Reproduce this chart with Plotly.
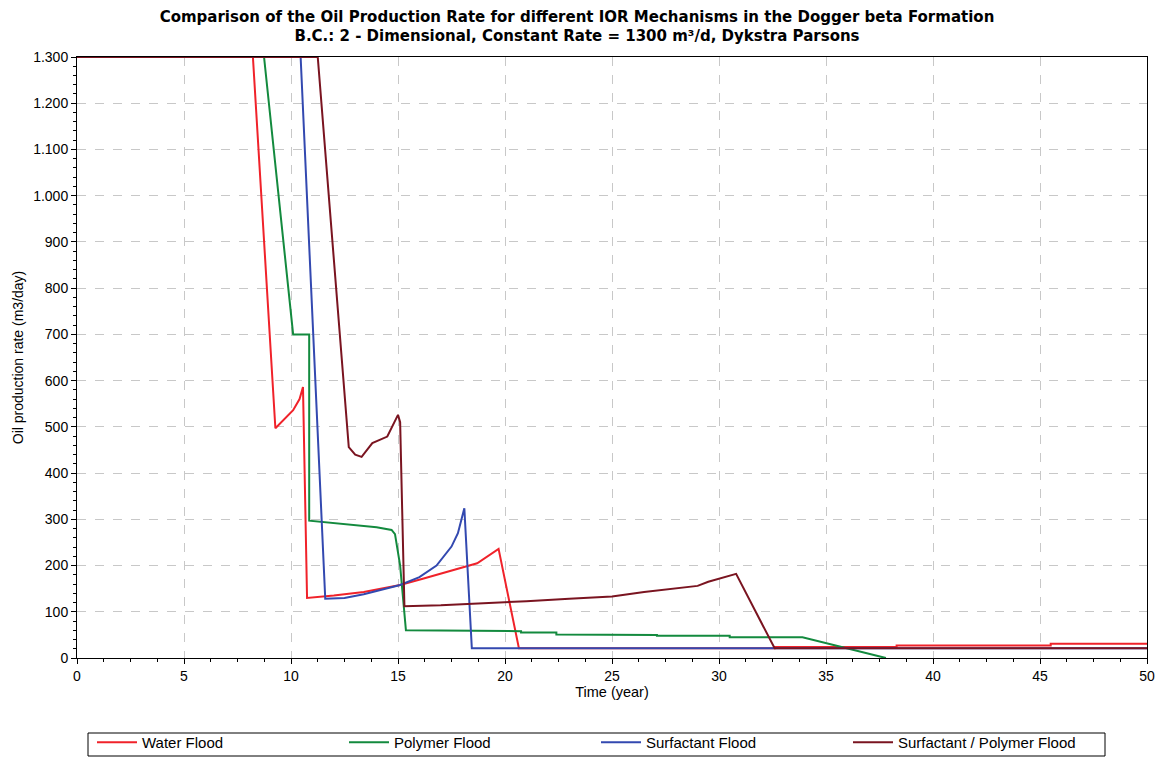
import plotly.graph_objects as go

# ---- data ----
water_x = [0, 8.22, 9.27, 9.6, 10.1, 10.4, 10.56, 10.75, 12, 13.4, 15.1, 16.2, 17.3, 18.7, 19.7,
           20.65, 32.6, 32.6, 38.3, 38.3, 45.5, 45.5, 50]
water_y = [1300, 1300, 497, 512, 536, 560, 586, 130, 135, 143, 158, 172, 187, 205, 236,
           21, 21, 24, 24, 27, 27, 31, 31]

polymer_x = [0, 8.74, 10.1, 10.85, 10.85, 12, 13, 14, 14.7, 14.86, 15.1, 15.37, 20.75, 20.75,
             22.4, 22.4, 27.1, 27.1, 30.5, 30.5, 33.9, 37.8]
polymer_y = [1300, 1300, 700, 700, 297, 292, 287, 283, 277, 268, 200, 60, 58, 55,
             55, 51, 50, 48, 48, 45, 45, 0]

surf_x = [0, 10.45, 11.6, 12.5, 13.4, 14.3, 15.1, 16, 16.8, 17.5, 17.8, 18.1, 18.45, 50]
surf_y = [1300, 1300, 128, 130, 138, 148, 158, 175, 200, 241, 270, 324, 21, 21]

sp_x = [0, 11.25, 12.7, 13.0, 13.3, 13.8, 14.5, 15.0, 15.1, 15.3, 17, 19, 21, 23, 25, 26.5,
        28, 29, 29.5, 30.8, 32.6, 50]
sp_y = [1300, 1300, 456, 440, 435, 465, 479, 526, 510, 112, 114, 118, 123, 128, 133, 143,
        150, 156, 165, 182, 21, 21]

series_names = ["Water Flood", "Polymer Flood", "Surfactant Flood", "Surfactant / Polymer Flood"]
series_colors = ["#f0222a", "#138a3e", "#3349b0", "#7a1420"]

y_tickvals = [0, 100, 200, 300, 400, 500, 600, 700, 800, 900, 1000, 1100, 1200, 1300]
y_ticktext = ["0", "100", "200", "300", "400", "500", "600", "700", "800", "900",
              "1.000", "1.100", "1.200", "1.300"]
x_tickvals = [0, 5, 10, 15, 20, 25, 30, 35, 40, 45, 50]

fig = go.Figure()
for name, xs, ys, col in zip(series_names,
                             [water_x, polymer_x, surf_x, sp_x],
                             [water_y, polymer_y, surf_y, sp_y],
                             series_colors):
    fig.add_trace(go.Scatter(x=xs, y=ys, mode="lines", name=name,
                             line=dict(color=col, width=2)))

font_family = "Liberation Sans, Arial, sans-serif"

# legend frame (reference draws a thin box around the legend row)
fig.add_shape(type="rect", xref="paper", yref="paper",
              x0=(88 - 77) / 1070, x1=(1105 - 77) / 1070,
              y0=(658 - 756) / 601, y1=(658 - 733) / 601,
              line=dict(color="#000000", width=1), fillcolor="white", layer="below")

fig.update_layout(
    width=1162, height=758,
    margin=dict(l=77, r=15, t=57, b=100, autoexpand=False),
    paper_bgcolor="white", plot_bgcolor="white",
    font=dict(family=font_family, size=13, color="#000000"),
    title=dict(
        text="Comparison of the Oil Production Rate for different IOR Mechanisms in the Dogger beta Formation"
             "<br>B.C.: 2 - Dimensional, Constant Rate = 1300 m³/d, Dykstra Parsons",
        x=577 / 1162, xanchor="center", xref="container",
        y=1 - 21.5 / 758, yanchor="middle", yref="container",
        font=dict(family="DejaVu Sans, sans-serif", size=15, color="#000000", weight="bold"),
    ),
    showlegend=True,
    legend=dict(
        orientation="h", x=92 / 1162, xanchor="left", xref="container",
        y=1 - 726 / 758, yanchor="top", yref="container",
        borderwidth=0, bgcolor="rgba(0,0,0,0)",
        entrywidth=197, entrywidthmode="pixels",
        font=dict(family=font_family, size=15, color="#000000"),
        itemwidth=40, tracegroupgap=0,
    ),
)

fig.update_xaxes(
    range=[0, 50], tickvals=x_tickvals,
    showgrid=True, gridcolor="#c8c8c8", griddash="dash", gridwidth=1,
    showline=True, linecolor="#000000", linewidth=1, mirror=True,
    ticks="outside", ticklen=5, tickcolor="#000000",
    minor=dict(dtick=1.25, ticks="outside", ticklen=3, tickcolor="#000000", showgrid=False),
    zeroline=False,
    title=dict(text="Time (year)", font=dict(size=14.5), standoff=4),
    tickfont=dict(size=14),
)
fig.update_yaxes(
    range=[0, 1300], tickvals=y_tickvals, ticktext=y_ticktext,
    showgrid=True, gridcolor="#c8c8c8", griddash="dash", gridwidth=1,
    showline=True, linecolor="#000000", linewidth=1, mirror=True,
    ticks="outside", ticklen=5, tickcolor="#000000",
    minor=dict(dtick=20, ticks="outside", ticklen=3, tickcolor="#000000", showgrid=False),
    zeroline=False,
    title=dict(text="Oil production rate (m3/day)", font=dict(size=14), standoff=6),
    tickfont=dict(size=14),
)

fig.write_html("out.html")
